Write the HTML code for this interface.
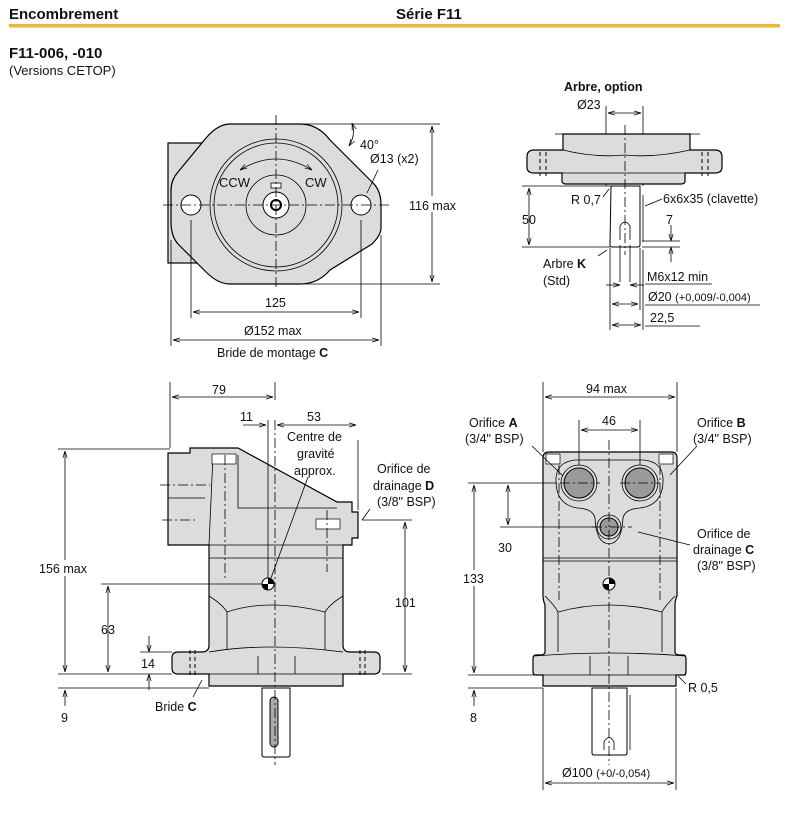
<!DOCTYPE html>
<html><head><meta charset="utf-8"><style>
html,body{margin:0;padding:0;background:#fff;}
svg{display:block;font-family:"Liberation Sans",sans-serif;}
.b{fill:#dcdcdc;stroke:#000;stroke-width:1.2}
.l{stroke:#000;stroke-width:0.8;fill:none}
.d{stroke:#000;stroke-width:0.8;fill:none;stroke-dasharray:10 3 2 3}
.h{stroke:#000;stroke-width:1;fill:none;stroke-dasharray:4 3}
text{font-size:12.5px;fill:#111}
</style></head><body>
<svg width="812" height="818" viewBox="0 0 812 818" xmlns="http://www.w3.org/2000/svg">
<defs><marker id="a" viewBox="0 0 10 10" refX="10" refY="5" markerWidth="9" markerHeight="9" orient="auto-start-reverse"><path d="M0,2 L10,5 L0,8" fill="none" stroke="#000" stroke-width="1"/></marker></defs>
<text x="9" y="19" style="font-size:15px;font-weight:bold">Encombrement</text>
<text x="396" y="19" style="font-size:15px;font-weight:bold">Série F11</text>
<rect x="9" y="24" width="771" height="3.5" fill="#f0b72f"/>
<text x="9" y="58" style="font-size:15px;font-weight:bold">F11-006, -010</text>
<text x="9" y="75" style="font-size:13px">(Versions CETOP)</text>

<!-- top-left view -->
<rect class="b" x="168" y="143" width="50" height="120"/>
<path class="b" d="M230,124 L300,124 Q318,124 330,140 L372,182 Q381,190 381,205 L381,228 Q381,235 372,244 L330,270 Q318,284 300,284 L230,284 Q218,284 206,272 L178,244 Q171,236 171,222 L171,190 Q171,180 178,172 L206,138 Q218,124 230,124Z"/>
<circle class="l" cx="276" cy="205" r="66"/><circle class="l" cx="276" cy="205" r="62"/>
<circle class="l" cx="276" cy="205" r="30"/><circle cx="276" cy="205" r="13" fill="#fff" stroke="#000"/>
<circle class="l" cx="276" cy="205" r="5" style="stroke-width:2"/>
<rect x="271" y="183" width="10" height="5" fill="#fff" stroke="#000" stroke-width="0.8"/>
<circle cx="191" cy="205" r="10" fill="#fff" stroke="#000"/><circle cx="361" cy="205" r="10" fill="#fff" stroke="#000"/>
<line class="d" x1="163" y1="205" x2="390" y2="205"/><line class="d" x1="276" y1="115" x2="276" y2="290"/>
<path class="l" d="M240,170 Q276,148 312,170" marker-start="url(#a)" marker-end="url(#a)"/>
<text x="219" y="187" style="font-size:13px">CCW</text><text x="305" y="187" style="font-size:13px">CW</text>
<text x="360" y="149">40°</text><text x="370" y="163">Ø13 (x2)</text>
<line class="l" x1="378" y1="170" x2="367" y2="193"/>
<path class="l" d="M352,123 Q356,135 349,146" marker-start="url(#a)" marker-end="url(#a)"/>
<line class="l" x1="300" y1="124" x2="440" y2="124"/><line class="l" x1="305" y1="284" x2="440" y2="284"/>
<line class="l" x1="432" y1="126" x2="432" y2="282" marker-start="url(#a)" marker-end="url(#a)"/>
<rect x="405" y="196" width="58" height="16" fill="#fff"/><text x="409" y="210">116 max</text>
<line class="l" x1="191" y1="220" x2="191" y2="318"/><line class="l" x1="361" y1="220" x2="361" y2="318"/>
<line class="l" x1="193" y1="312" x2="359" y2="312" marker-start="url(#a)" marker-end="url(#a)"/>
<text x="265" y="307">125</text>
<line class="l" x1="171" y1="240" x2="171" y2="346"/><line class="l" x1="381" y1="235" x2="381" y2="346"/>
<line class="l" x1="173" y1="340" x2="379" y2="340" marker-start="url(#a)" marker-end="url(#a)"/>
<text x="244" y="335">Ø152 max</text>
<text x="217" y="357">Bride de montage <tspan font-weight="bold">C</tspan></text>

<!-- top-right view -->
<text x="564" y="91" style="font-weight:bold">Arbre, option</text>
<text x="577" y="109">Ø23</text>
<line class="l" x1="608" y1="113" x2="641" y2="113" marker-start="url(#a)" marker-end="url(#a)"/>
<line class="l" x1="606" y1="106" x2="606" y2="186"/><line class="l" x1="643" y1="106" x2="643" y2="186"/>
<path class="b" d="M563,134 L690,134 L690,150 L715,150 Q722,150 722,157 L722,167 Q722,173 715,173 L685,173 L685,181 Q685,184 681,184 L566,184 Q562,184 562,181 L562,173 L534,173 Q527,173 527,167 L527,157 Q527,150 534,150 L563,150Z"/>
<path class="l" d="M563,150 Q595,158 625,155 Q655,158 690,150"/>
<line class="l" x1="562" y1="173" x2="685" y2="173"/>
<line class="l" x1="555" y1="134" x2="700" y2="134"/>
<line class="h" x1="540" y1="152" x2="540" y2="176"/><line class="h" x1="546" y1="152" x2="546" y2="176"/>
<line class="h" x1="702" y1="152" x2="702" y2="176"/><line class="h" x1="708" y1="152" x2="708" y2="176"/>
<path d="M611,186 L640,186 L640,245 Q640,247 638,247 L612,247 Q610,247 610,245Z" fill="#fff" stroke="#000"/>
<line class="l" x1="643" y1="195" x2="643" y2="242"/>
<path class="l" d="M620,240 L620,226 Q625,218 630,226 L630,240"/>
<line class="d" x1="625" y1="125" x2="625" y2="255"/>
<line class="l" x1="522" y1="186" x2="611" y2="186"/><line class="l" x1="522" y1="247" x2="610" y2="247"/>
<line class="l" x1="529" y1="188" x2="529" y2="245" marker-start="url(#a)" marker-end="url(#a)"/>
<text x="522" y="224">50</text>
<text x="571" y="204">R 0,7</text><line class="l" x1="603" y1="197" x2="609" y2="189"/>
<text x="663" y="203">6x6x35 (clavette)</text><line class="l" x1="662" y1="199" x2="645" y2="206"/>
<text x="666" y="224">7</text>
<line class="l" x1="642" y1="241" x2="680" y2="241"/><line class="l" x1="642" y1="247" x2="680" y2="247"/>
<line class="l" x1="671" y1="225" x2="671" y2="241" marker-end="url(#a)"/><line class="l" x1="671" y1="262" x2="671" y2="247" marker-end="url(#a)"/>
<text x="543" y="268">Arbre <tspan font-weight="bold">K</tspan></text><text x="543" y="285">(Std)</text>
<line class="l" x1="598" y1="256" x2="607" y2="250"/>
<line class="l" x1="620" y1="245" x2="620" y2="282"/><line class="l" x1="630" y1="245" x2="630" y2="282"/>
<line class="l" x1="610" y1="248" x2="610" y2="330"/><line class="l" x1="640" y1="248" x2="640" y2="310"/><line class="l" x1="643" y1="250" x2="643" y2="330"/>
<line class="l" x1="606" y1="285" x2="620" y2="285" marker-end="url(#a)"/><line class="l" x1="644" y1="285" x2="630" y2="285" marker-end="url(#a)"/>
<line class="l" x1="645" y1="284" x2="712" y2="284"/><text x="647" y="281">M6x12 min</text>
<line class="l" x1="612" y1="304" x2="638" y2="304" marker-start="url(#a)" marker-end="url(#a)"/>
<text x="648" y="301">Ø20 <tspan style="font-size:11px">(+0,009/-0,004)</tspan></text>
<line class="l" x1="612" y1="325" x2="641" y2="325" marker-start="url(#a)" marker-end="url(#a)"/>
<text x="650" y="322">22,5</text><line class="l" x1="645" y1="326" x2="700" y2="326"/><line class="l" x1="645" y1="305" x2="760" y2="305"/>

<!-- bottom-left view -->
<path class="b" d="M168,453 L190,453 L190,448 L238,448 L337,502 L352,502 L352,512 L358,512 L358,538 L352,538 L352,545 L343,545 L343,645 Q343,652 350,652 L374,652 Q380,652 380,658 L380,668 Q380,674 374,674 L343,674 L343,686 L209,686 L209,674 L178,674 Q172,674 172,668 L172,658 Q172,652 178,652 L202,652 Q209,652 209,645 L209,545 L168,545Z"/>
<line class="l" x1="209" y1="545" x2="352" y2="545"/><line class="l" x1="209" y1="558" x2="343" y2="558"/>
<path class="l" d="M213,455 L209,545 M238,455 L238,508 L337,508"/>
<line class="l" x1="168" y1="498" x2="205" y2="498"/>
<path class="l" d="M209,596 Q222,604 227,612 L227,650 M343,596 Q330,604 325,612 L325,650 M227,612 Q268,598 325,612"/>
<path class="l" d="M209,652 Q268,642 343,652 M258,656 L258,674 M295,656 L295,674 M209,674 L343,674"/>
<rect x="212" y="454" width="24" height="10" fill="#fff" stroke="#000" stroke-width="0.7"/>
<rect x="316" y="519" width="24" height="10" fill="#fff" stroke="#000" stroke-width="0.7"/>
<path d="M262,688 L290,688 L290,755 Q290,757 288,757 L264,757 Q262,757 262,755Z" fill="#fff" stroke="#000"/>
<rect x="270" y="697" width="8" height="50" rx="4" fill="#aaa" stroke="#000"/>
<line class="d" x1="275" y1="420" x2="275" y2="765"/><line class="d" x1="225" y1="455" x2="225" y2="580"/><line class="d" x1="327" y1="510" x2="327" y2="572"/>
<line class="d" x1="160" y1="485" x2="210" y2="485"/><line class="d" x1="162" y1="520" x2="195" y2="520"/>
<line class="h" x1="190" y1="650" x2="190" y2="678"/><line class="h" x1="195" y1="650" x2="195" y2="678"/>
<line class="h" x1="360" y1="650" x2="360" y2="678"/><line class="h" x1="365" y1="650" x2="365" y2="678"/>
<circle cx="268" cy="584" r="6" fill="#fff" stroke="#000"/><path d="M268,578 A6,6 0 0 1 274,584 L268,584Z M268,590 A6,6 0 0 1 262,584 L268,584Z" fill="#000"/>
<line class="l" x1="101" y1="584" x2="262" y2="584"/>
<line class="l" x1="170" y1="382" x2="170" y2="448"/><line class="l" x1="275" y1="382" x2="275" y2="400"/>
<line class="l" x1="172" y1="397" x2="273" y2="397" marker-start="url(#a)" marker-end="url(#a)"/><text x="212" y="394">79</text>
<line class="l" x1="268" y1="420" x2="268" y2="578"/><line class="l" x1="358" y1="440" x2="358" y2="510"/>
<line class="l" x1="243" y1="425" x2="266" y2="425" marker-end="url(#a)"/><text x="240" y="421">11</text>
<line class="l" x1="277" y1="425" x2="356" y2="425" marker-start="url(#a)" marker-end="url(#a)"/><text x="307" y="421">53</text>
<text x="287" y="441" text-anchor="start">Centre de</text><text x="297" y="458">gravité</text><text x="294" y="475">approx.</text>
<line class="l" x1="308" y1="477" x2="271" y2="578"/>
<text x="377" y="473">Orifice de</text><text x="373" y="490">drainage <tspan font-weight="bold">D</tspan></text><text x="377" y="506">(3/8" BSP)</text>
<line class="l" x1="370" y1="509" x2="362" y2="520"/>
<line class="l" x1="60" y1="498" x2="160" y2="498" style="opacity:0"/>
<line class="l" x1="58" y1="449" x2="170" y2="449"/><line class="l" x1="58" y1="674" x2="172" y2="674"/>
<line class="l" x1="65" y1="451" x2="65" y2="672" marker-start="url(#a)" marker-end="url(#a)"/>
<rect x="38" y="560" width="56" height="16" fill="#fff"/><text x="39" y="573">156 max</text>
<line class="l" x1="108" y1="586" x2="108" y2="672" marker-start="url(#a)" marker-end="url(#a)"/><text x="101" y="634">63</text>
<line class="l" x1="140" y1="652" x2="172" y2="652"/>
<line class="l" x1="149" y1="636" x2="149" y2="652" marker-end="url(#a)"/><line class="l" x1="149" y1="690" x2="149" y2="674" marker-end="url(#a)"/>
<text x="141" y="668">14</text>
<line class="l" x1="58" y1="688" x2="209" y2="688"/>
<line class="l" x1="65" y1="706" x2="65" y2="690" marker-end="url(#a)"/><text x="61" y="722">9</text>
<text x="155" y="711">Bride <tspan font-weight="bold">C</tspan></text><line class="l" x1="193" y1="697" x2="202" y2="680"/>
<line class="l" x1="362" y1="520" x2="412" y2="520"/><line class="l" x1="382" y1="674" x2="412" y2="674"/>
<line class="l" x1="405" y1="522" x2="405" y2="672" marker-start="url(#a)" marker-end="url(#a)"/><text x="395" y="607">101</text>

<!-- bottom-right view -->
<path class="b" d="M543,458 Q543,452 549,452 L671,452 Q677,452 677,458 L677,596 Q675,600 675,605 L675,652 Q675,655 680,655 L683,655 Q686,655 686,659 L686,672 Q686,675 683,675 L676,675 L676,686 L543,686 L543,675 L536,675 Q533,675 533,672 L533,659 Q533,655 536,655 L540,655 Q545,655 545,652 L545,605 Q543,600 543,596Z"/>
<line class="l" x1="543" y1="558" x2="677" y2="558"/><line class="l" x1="543" y1="561" x2="677" y2="561"/>
<path class="l" d="M556,478 Q557,462 575,460 L644,460 Q662,462 663,478 Q664,505 640,508 Q625,509 623,518 Q622,543 609,544 Q596,543 595,518 Q593,509 578,508 Q555,505 556,478Z"/>
<path class="l" d="M545,596 Q555,606 558,612 L558,652 M675,596 Q665,606 662,612 L662,652 M558,612 Q609,598 662,612 M534,656 Q609,650 686,656 M590,656 L590,675 M628,656 L628,675 M533,675 L686,675"/>
<rect x="546" y="454" width="14" height="10" fill="#fff" stroke="#000" stroke-width="0.7"/><rect x="659" y="454" width="14" height="10" fill="#fff" stroke="#000" stroke-width="0.7"/>
<circle cx="579" cy="483" r="18" fill="none" stroke="#000" stroke-width="0.8"/><circle cx="579" cy="483" r="15" fill="#9a9a9a" stroke="#000"/>
<circle cx="640" cy="483" r="18" fill="none" stroke="#000" stroke-width="0.8"/><circle cx="640" cy="483" r="15" fill="#9a9a9a" stroke="#000"/>
<circle cx="609" cy="527" r="12" fill="none" stroke="#000" stroke-width="0.8"/><circle cx="609" cy="527" r="9" fill="#9a9a9a" stroke="#000"/>
<path d="M592,688 L627,688 L627,753 Q627,755 625,755 L594,755 Q592,755 592,753Z" fill="#fff" stroke="#000"/>
<line class="l" x1="630" y1="695" x2="630" y2="750"/><path class="l" d="M604,750 L604,742 Q609,733 614,742 L614,750"/>
<line class="d" x1="609" y1="440" x2="609" y2="765"/><line class="d" x1="559" y1="465" x2="559" y2="600"/><line class="d" x1="660" y1="465" x2="660" y2="600"/>
<line class="d" x1="560" y1="483" x2="600" y2="483"/><line class="d" x1="620" y1="483" x2="660" y2="483"/><line class="d" x1="592" y1="527" x2="632" y2="527"/>
<circle cx="609" cy="584" r="6" fill="#fff" stroke="#000"/><path d="M609,578 A6,6 0 0 1 615,584 L609,584Z M609,590 A6,6 0 0 1 603,584 L609,584Z" fill="#000"/>
<line class="l" x1="543" y1="382" x2="543" y2="452"/><line class="l" x1="677" y1="382" x2="677" y2="452"/>
<line class="l" x1="545" y1="397" x2="675" y2="397" marker-start="url(#a)" marker-end="url(#a)"/><text x="586" y="393">94 max</text>
<line class="l" x1="579" y1="420" x2="579" y2="465"/><line class="l" x1="640" y1="420" x2="640" y2="465"/>
<line class="l" x1="581" y1="430" x2="638" y2="430" marker-start="url(#a)" marker-end="url(#a)"/><text x="602" y="425">46</text>
<text x="469" y="427">Orifice <tspan font-weight="bold">A</tspan></text><text x="465" y="443">(3/4" BSP)</text>
<line class="l" x1="532" y1="446" x2="563" y2="476"/>
<text x="697" y="427">Orifice <tspan font-weight="bold">B</tspan></text><text x="693" y="443">(3/4" BSP)</text>
<line class="l" x1="697" y1="446" x2="670" y2="475"/>
<text x="697" y="538">Orifice de</text><text x="693" y="554">drainage <tspan font-weight="bold">C</tspan></text><text x="697" y="570">(3/8" BSP)</text>
<line class="l" x1="690" y1="545" x2="638" y2="532"/>
<line class="l" x1="468" y1="483" x2="557" y2="483"/><line class="l" x1="500" y1="527" x2="597" y2="527"/>
<line class="l" x1="508" y1="485" x2="508" y2="525" marker-start="url(#a)" marker-end="url(#a)"/><text x="498" y="552">30</text>
<line class="l" x1="468" y1="675" x2="533" y2="675"/><line class="l" x1="468" y1="688" x2="543" y2="688"/>
<line class="l" x1="474" y1="485" x2="474" y2="673" marker-start="url(#a)" marker-end="url(#a)"/>
<rect x="462" y="570" width="24" height="16" fill="#fff"/><text x="463" y="583">133</text>
<line class="l" x1="474" y1="706" x2="474" y2="690" marker-end="url(#a)"/><text x="470" y="722">8</text>
<text x="688" y="692">R 0,5</text><line class="l" x1="686" y1="684" x2="678" y2="676"/>
<line class="l" x1="543" y1="688" x2="543" y2="790"/><line class="l" x1="676" y1="688" x2="676" y2="790"/>
<line class="l" x1="545" y1="783" x2="674" y2="783" marker-start="url(#a)" marker-end="url(#a)"/>
<text x="562" y="777">Ø100 <tspan style="font-size:11px">(+0/-0,054)</tspan></text>
</svg>
</body></html>
